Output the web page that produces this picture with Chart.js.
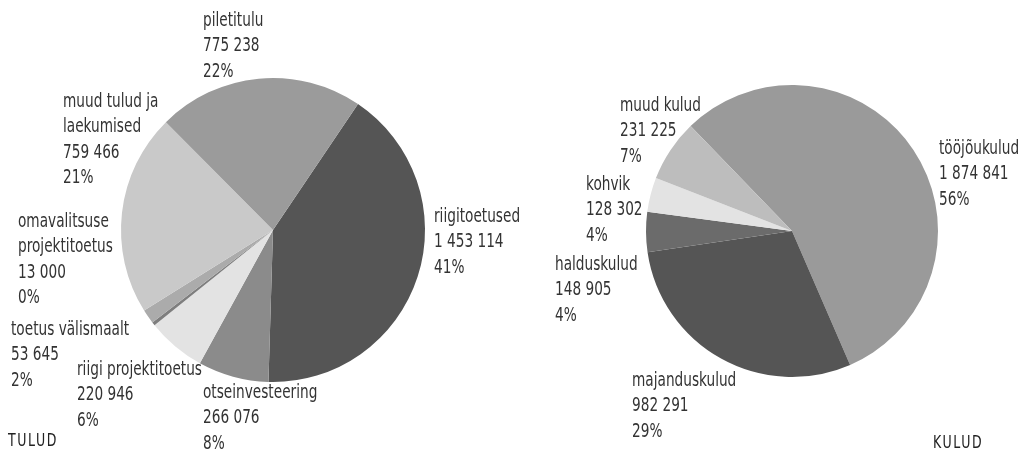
<!DOCTYPE html>
<html>
<head>
<meta charset="utf-8">
<script src="https://cdn.jsdelivr.net/npm/chart.js@4"></script>
<style>
  body { margin: 0; background: #fff; }
  #wrap { position: relative; width: 1022px; height: 451px; overflow: hidden; }
  #tulud { position: absolute; left: 0; top: 0; }
  #kulud { position: absolute; left: 540px; top: 0; }
  .caption { position: absolute; font-family: "DejaVu Sans Condensed", "Liberation Sans Narrow", sans-serif;
             font-size: 17px; letter-spacing: 2px; color: #222; transform: scaleX(0.82); transform-origin: left top; }
</style>
</head>
<body>
<div id="wrap">
  <canvas id="tulud" width="560" height="451"></canvas>
  <canvas id="kulud" width="482" height="451"></canvas>
  <div class="caption" style="left:8px; top:430px;">TULUD</div>
  <div class="caption" style="left:933px; top:432px;">KULUD</div>
</div>
<script>
// TULUD (vasak)
const tuludNimed = ['riigitoetused', 'otseinvesteering', 'riigi projektitoetus', ['omavalitsuse', 'projektitoetus'],
                    'toetus välismaalt', ['muud tulud ja', 'laekumised'], 'piletitulu'];
const tuludSummad = [1453114, 266076, 220946, 13000, 53645, 759466, 775238];
const tuludVarvid = ['#555555', '#8b8b8b', '#e3e3e3', '#7e7e7e', '#ababab', '#c9c9c9', '#9b9b9b'];
// sildi asukoht keskpunkti suhtes (esimese rea keskkoht)
const tuludSildid = [[161, -13], [-70, 163], [-196, 140], [-255, -8], [-262, 100], [-210, -128], [-70, -209]];

// KULUD (parem)
const kuludNimed = ['tööjõukulud', 'majanduskulud', 'halduskulud', 'kohvik', 'muud kulud'];
const kuludSummad = [1874841, 982291, 148905, 128302, 231225];
const kuludVarvid = ['#9a9a9a', '#555555', '#6b6b6b', '#e3e3e3', '#bdbdbd'];
const kuludSildid = [[147, -82], [-160, 150], [-237, 34], [-206, -46], [-172, -125]];

function vorminda(n) {
    return String(n).replace(/\B(?=(\d{3})+(?!\d))/g, ' ');
}

// joonistab sildid iga lõigu juurde (kitsendatud kiri)
const siltPlugin = {
    id: 'sildid',
    afterDraw(chart) {
        const ctx = chart.ctx;
        const ds = chart.data.datasets[0];
        const meta = chart.getDatasetMeta(0);
        const total = ds.data.reduce((a, b) => a + b, 0);
        const pos = chart.options.plugins.sildid.pos;
        ctx.save();
        ctx.font = '19px "DejaVu Sans Condensed", "Liberation Sans Narrow", sans-serif';
        ctx.fillStyle = '#333';
        ctx.textAlign = 'left';
        ctx.textBaseline = 'middle';
        meta.data.forEach((arc, i) => {
            const nimi = chart.data.labels[i];
            const read = (Array.isArray(nimi) ? nimi : [nimi]).slice();
            read.push(vorminda(ds.data[i]));
            read.push(Math.round(ds.data[i] / total * 100) + '%');
            const x = arc.x + pos[i][0];
            let y = arc.y + pos[i][1];
            read.forEach(r => {
                ctx.save();
                ctx.translate(x, y);
                ctx.scale(0.8, 1);
                ctx.fillText(r, 0, 0);
                ctx.restore();
                y += 25.5;
            });
        });
        ctx.restore();
    }
};

function teeGraafik(id, nimed, summad, varvid, sildid, poore, raadius, padding) {
    return new Chart(document.getElementById(id), {
        type: 'pie',
        data: {
            labels: nimed,
            datasets: [{
                data: summad,
                backgroundColor: varvid,
                borderWidth: 0
            }]
        },
        options: {
            responsive: false,
            animation: false,
            rotation: poore,
            radius: raadius,
            layout: { padding: padding },
            plugins: {
                legend: { display: false },
                tooltip: { enabled: false },
                sildid: { pos: sildid }
            }
        },
        plugins: [siltPlugin]
    });
}

teeGraafik('tulud', tuludNimed, tuludSummad, tuludVarvid, tuludSildid, 34, 152,
           { left: 121, right: 135, top: 78, bottom: 69 });
teeGraafik('kulud', kuludNimed, kuludSummad, kuludVarvid, kuludSildid, 316, 146,
           { left: 106, right: 84, top: 85, bottom: 74 });
</script>
</body>
</html>
